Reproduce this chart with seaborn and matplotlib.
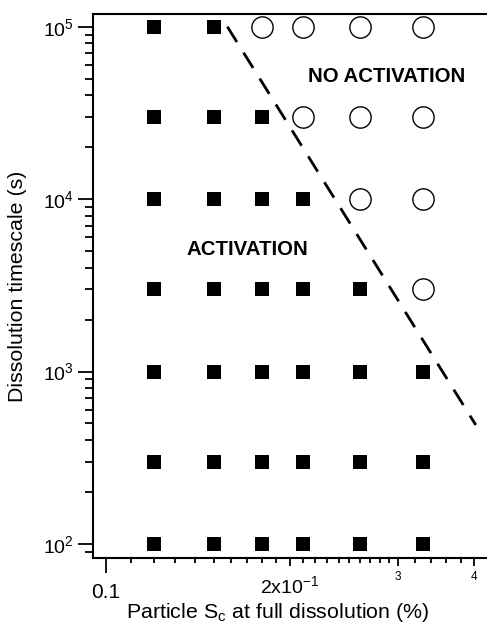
import numpy as np
import pandas as pd
import matplotlib
matplotlib.use("Agg")
import matplotlib.pyplot as plt
import matplotlib.transforms as mtransforms
from matplotlib.ticker import FixedLocator, NullFormatter
import seaborn as sns

# Particle critical supersaturation at full dissolution (%) for each column
sc_values = [0.12, 0.15, 0.18, 0.21, 0.26, 0.33]
# Dissolution timescales (s) for each row
timescales = [1e5, 3e4, 1e4, 3e3, 1e3, 300, 100]
# Number of columns (from the left) that activate, row by row
n_activated = [2, 3, 4, 5, 6, 6, 6]

# Approximate activation boundary
boundary_x = [0.158, 0.402]
boundary_y = [1.0e5, 490]

rows = []
for t, n in zip(timescales, n_activated):
    for i, sc in enumerate(sc_values):
        rows.append({"sc": sc, "tau": t, "state": "act" if i < n else "noact"})
df = pd.DataFrame(rows)
line_df = pd.DataFrame({"sc": boundary_x, "tau": boundary_y})

sns.set_theme(style="ticks")
plt.rcParams["font.family"] = ["Liberation Sans", "DejaVu Sans"]
plt.rcParams["mathtext.fontset"] = "custom"
plt.rcParams["mathtext.rm"] = "Liberation Sans"
plt.rcParams["mathtext.it"] = "Liberation Sans:italic"
plt.rcParams["mathtext.bf"] = "Liberation Sans:bold"
plt.rcParams["text.color"] = "black"
plt.rcParams["axes.labelcolor"] = "black"
plt.rcParams["xtick.color"] = "black"
plt.rcParams["ytick.color"] = "black"

fig = plt.figure(figsize=(4.87, 6.24), dpi=100)
ax = fig.add_axes([92.7 / 487, 1 - 557.7 / 624, 1 - 92.7 / 487, (557.7 - 14) / 624])
ax.set_xscale("log")
ax.set_yscale("log")

sns.scatterplot(data=df[df.state == "act"], x="sc", y="tau", marker="s",
                s=88, color="black", edgecolor="black", linewidth=0, ax=ax,
                zorder=3, legend=False)
sns.scatterplot(data=df[df.state == "noact"], x="sc", y="tau", marker="o",
                s=235, facecolor="white", edgecolor="black", linewidth=1.0,
                ax=ax, zorder=3, legend=False)
sns.lineplot(data=line_df, x="sc", y="tau", color="black", linewidth=2.0,
             dashes=False, ax=ax, zorder=2, estimator=None, sort=False)
ax.lines[-1].set_dashes([6.5, 4.5])

xmin = 10 ** (-1 - 13.0 / 612.5)
xmax = 10 ** (-1 + (487 - 105.7) / 612.5)
ax.set_xlim(xmin, xmax)
ymin = 10 ** (2 - 13.7 / 172.4)
ymax = 10 ** (5 + 12.7 / 172.4)
ax.set_ylim(ymin, ymax)

for side in ["left", "top", "bottom"]:
    ax.spines[side].set_linewidth(1.5)
    ax.spines[side].set_color("black")
ax.spines["right"].set_visible(False)

# x axis ticks: labels drawn separately below
ax.xaxis.set_major_locator(FixedLocator([0.1, 0.2, 0.3, 0.4]))
minor_x = [0.11, 0.12, 0.13, 0.14, 0.15, 0.16, 0.17, 0.18, 0.19,
           0.21, 0.22, 0.23, 0.24, 0.25, 0.26, 0.27, 0.28, 0.29,
           0.32, 0.34, 0.36, 0.38]
ax.xaxis.set_minor_locator(FixedLocator(minor_x))
ax.xaxis.set_major_formatter(NullFormatter())
ax.xaxis.set_minor_formatter(NullFormatter())
ax.tick_params(axis="x", which="major", direction="out", length=5.8, width=1.3)
ax.tick_params(axis="x", which="minor", direction="out", length=3.6, width=1.3)
ax.xaxis.get_major_ticks()[0].tick1line.set_markersize(11)

ax.yaxis.set_major_locator(FixedLocator([1e2, 1e3, 1e4, 1e5]))
ax.yaxis.set_minor_locator(FixedLocator([m * 10 ** d for d in range(1, 6) for m in range(2, 10)]))
ax.yaxis.set_minor_formatter(NullFormatter())
ax.set_yticklabels([r"$\mathregular{10^2}$", r"$\mathregular{10^3}$",
                    r"$\mathregular{10^4}$", r"$\mathregular{10^5}$"])
ax.tick_params(axis="y", which="major", direction="out", length=10.5, width=1.3,
               labelsize=14, pad=3)
ax.tick_params(axis="y", which="minor", direction="out", length=6.0, width=1.3)

xt = mtransforms.blended_transform_factory(ax.transData, fig.transFigure)
ax.text(0.1, 1 - 593 / 624, "0.1", transform=xt, ha="center", va="center", fontsize=15)
ax.text(0.2, 1 - 586 / 624, r"$\mathregular{2x10^{-1}}$", transform=xt,
        ha="center", va="center", fontsize=14)
ax.text(0.3, 1 - 577 / 624, "3", transform=xt, ha="center", va="center", fontsize=8.5)
ax.text(0.4, 1 - 577 / 624, "4", transform=xt, ha="center", va="center", fontsize=8.5)

ax.set_xlabel(r"Particle S$_\mathregular{c}$ at full dissolution (%)", fontsize=15.4)
ax.xaxis.set_label_coords(0.47, (557.7 - 612) / (557.7 - 14), transform=ax.transAxes)
ax.xaxis.label.set_va("center")
ax.set_ylabel("Dissolution timescale (s)", fontsize=15.4)
ax.yaxis.set_label_coords((18 - 92.7) / (487 - 92.7), 0.5)
ax.yaxis.label.set_va("center")

ax.text(0.287, 5.13e4, "NO ACTIVATION", ha="center", va="center",
        fontsize=14.7, fontweight="bold")
ax.text(0.1704, 5134, "ACTIVATION", ha="center", va="center",
        fontsize=14.7, fontweight="bold")

fig.savefig("out.png", dpi=100, facecolor="white")
